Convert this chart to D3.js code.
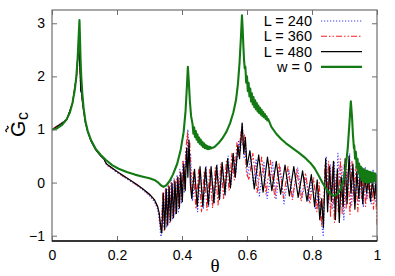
<!DOCTYPE html>
<html><head><meta charset="utf-8">
<script src="https://cdn.jsdelivr.net/npm/d3@7"></script>
<style>body{margin:0;background:#fff}svg{display:block}</style>
</head><body><svg id="c" width="395" height="276"></svg>
<script>
const xTicks = [0, 0.2, 0.4, 0.6, 0.8, 1];
const yTicks = [-1, 0, 1, 2, 3];
const seriesNames = ["L = 240", "L = 360", "L = 480", "w = 0"];

const L240 = [[0,1.00],[0.045,1.19],[0.063,1.50],[0.075,2.00],[0.082,2.65],[0.0855,2.30],[0.087,2.05],[0.0885,1.70],[0.090,1.85],[0.092,1.65],[0.096,1.43],[0.103,1.14],[0.110,0.97],[0.120,0.80],[0.135,0.63],[0.150,0.52],[0.160,0.46],[0.163,0.42],[0.166,0.36],[0.170,0.32],[0.180,0.28],[0.200,0.19],[0.220,0.11],[0.240,0.03],[0.260,-0.05],[0.280,-0.14],[0.300,-0.25],[0.315,-0.36],[0.325,-0.50],[0.330,-0.70],[0.334,-0.98],[0.336,-1.02],
[0.3395,-0.40],[0.3440,-0.85],[0.3485,-0.15],[0.3530,-0.85],[0.3575,-0.02],[0.3620,-0.75],[0.3665,0.05],[0.3710,-0.70],[0.3755,0.08],[0.3800,-0.60],[0.3845,0.15],[0.3890,-0.55],[0.3935,0.25],[0.3980,-0.40],[0.4025,0.40],[0.4070,-0.20],[0.4115,0.60],[0.4150,0.30],[0.4180,1.00],[0.4220,0.35],[0.4265,0.55],[0.4320,-0.35],
[0.4400,0.10],[0.4480,-0.55],[0.4570,0.20],[0.4655,-0.50],[0.4740,0.30],[0.4825,-0.45],[0.4910,0.20],[0.4995,-0.40],[0.5080,0.35],[0.5165,-0.30],[0.5250,0.30],[0.5335,-0.25],[0.5420,0.50],[0.5505,-0.05],[0.5590,0.50],[0.5660,0.20],[0.5740,0.80],[0.5800,0.60],[0.5860,1.10],[0.5910,0.45],[0.5960,0.70],[0.6010,0.10],
[0.6120,0.50],[0.6200,-0.05],[0.6280,0.45],[0.6380,-0.25],[0.6520,0.40],[0.6620,-0.30],[0.6790,0.38],[0.6890,-0.32],[0.7020,0.30],[0.7140,-0.40],[0.7290,0.22],[0.7410,-0.28],[0.7560,0.28],[0.7690,-0.30],[0.7820,0.10],[0.7900,-0.35],[0.8000,0.05],[0.8100,-0.50],[0.8200,-0.15],[0.8280,-0.70],[0.8350,-1.02],[0.8380,-0.30],
[0.8440,0.50],[0.8500,-0.40],[0.8560,0.35],[0.8620,-0.50],[0.8680,0.40],[0.8740,-0.30],[0.8800,0.55],[0.8860,-0.45],[0.8920,0.30],[0.8980,-0.70],[0.9040,0.40],[0.9100,-0.30],[0.9160,0.55],[0.9220,-0.45],[0.9280,0.25],[0.9340,-0.40],[0.9400,0.40],[0.9460,-0.35],[0.9520,0.20],[0.9580,-0.45],[0.9640,0.30],[0.9700,-0.30],[0.9760,0.15],[0.9820,-0.40],[0.9880,0.25],[0.9940,-0.35],[1.0000,-0.10]];

const L360 = [[0,1.00],[0.045,1.19],[0.063,1.50],[0.075,1.99],[0.082,2.62],[0.0855,2.25],[0.087,1.95],[0.0885,1.75],[0.090,1.90],[0.092,1.62],[0.096,1.42],[0.103,1.13],[0.110,0.96],[0.120,0.79],[0.135,0.62],[0.150,0.51],[0.160,0.45],[0.163,0.41],[0.166,0.36],[0.170,0.33],[0.180,0.29],[0.200,0.20],[0.220,0.12],[0.240,0.04],[0.260,-0.04],[0.280,-0.13],[0.300,-0.23],[0.315,-0.33],[0.325,-0.46],[0.330,-0.62],[0.334,-0.85],[0.337,-0.90],
[0.3410,-0.18],[0.3455,-0.90],[0.3500,-0.10],[0.3545,-0.82],[0.3590,-0.05],[0.3635,-0.74],[0.3680,0.00],[0.3725,-0.65],[0.3770,0.05],[0.3815,-0.55],[0.3860,0.12],[0.3905,-0.45],[0.3950,0.22],[0.3995,-0.32],[0.4040,0.40],[0.4085,-0.10],[0.4130,0.70],[0.4170,0.95],[0.4200,0.40],[0.4240,0.75],[0.4290,-0.25],
[0.4350,0.20],[0.4430,-0.50],[0.4515,0.25],[0.4600,-0.55],[0.4685,0.22],[0.4770,-0.52],[0.4855,0.25],[0.4940,-0.48],[0.5025,0.28],[0.5110,-0.42],[0.5195,0.35],[0.5280,-0.30],[0.5365,0.40],[0.5450,-0.15],[0.5535,0.55],[0.5610,0.05],[0.5690,0.75],[0.5750,0.50],[0.5810,0.95],[0.5870,0.70],[0.5920,0.90],[0.5980,0.20],
[0.6060,0.05],[0.6180,0.55],[0.6315,-0.20],[0.6450,0.48],[0.6585,-0.22],[0.6720,0.42],[0.6855,-0.28],[0.6990,0.36],[0.7125,-0.30],[0.7260,0.30],[0.7395,-0.32],[0.7530,0.25],[0.7665,-0.35],[0.7800,0.18],[0.7935,-0.40],[0.8050,0.10],[0.8150,-0.55],[0.8220,0.00],[0.8300,-0.80],[0.8360,-0.40],
[0.8400,0.35],[0.8460,-0.20],[0.8510,0.40],[0.8570,-0.65],[0.8630,0.30],[0.8690,-0.75],[0.8750,0.15],[0.8810,-0.55],[0.8870,0.45],[0.8930,-0.60],[0.8990,0.35],[0.9050,-0.50],[0.9110,0.25],[0.9170,-0.60],[0.9230,0.40],[0.9290,-0.35],[0.9350,0.30],[0.9410,-0.55],[0.9470,0.15],[0.9530,-0.30],[0.9590,0.25],[0.9650,-0.45],[0.9710,0.10],[0.9770,-0.30],[0.9830,0.05],[0.9890,-0.50],[0.9950,-0.05],[1.0000,-0.80]];

const L480 = [[0,0.99],[0.045,1.18],[0.063,1.49],[0.075,1.98],[0.082,2.60],[0.0855,2.20],[0.087,2.00],[0.0885,1.72],[0.090,1.95],[0.092,1.60],[0.096,1.40],[0.103,1.12],[0.110,0.95],[0.120,0.78],[0.135,0.61],[0.150,0.50],[0.160,0.44],[0.163,0.40],[0.166,0.37],[0.170,0.34],[0.180,0.30],[0.200,0.21],[0.220,0.13],[0.240,0.05],[0.260,-0.03],[0.280,-0.12],[0.300,-0.22],[0.315,-0.32],[0.325,-0.45],[0.330,-0.58],[0.334,-0.80],[0.336,-0.92],
[0.3380,-0.95],[0.3425,-0.20],[0.3470,-0.88],[0.3515,-0.12],[0.3560,-0.80],[0.3605,-0.08],[0.3650,-0.72],[0.3695,-0.02],[0.3740,-0.66],[0.3785,0.02],[0.3830,-0.58],[0.3875,0.10],[0.3920,-0.48],[0.3965,0.18],[0.4010,-0.36],[0.4055,0.35],[0.4100,-0.15],[0.4145,0.65],[0.4180,0.10],[0.4215,0.80],[0.4260,-0.05],
[0.4300,-0.30],[0.4385,0.25],[0.4470,-0.45],[0.4555,0.30],[0.4640,-0.45],[0.4725,0.28],[0.4810,-0.42],[0.4895,0.30],[0.4980,-0.38],[0.5065,0.32],[0.5150,-0.32],[0.5235,0.38],[0.5320,-0.22],[0.5405,0.45],[0.5490,-0.10],[0.5575,0.55],[0.5640,0.10],[0.5720,0.70],[0.5770,0.45],[0.5850,1.12],[0.5900,0.55],[0.5950,0.85],[0.6000,0.30],
[0.6090,0.60],[0.6225,-0.12],[0.6360,0.52],[0.6495,-0.18],[0.6630,0.48],[0.6765,-0.15],[0.6900,0.40],[0.7035,-0.22],[0.7170,0.33],[0.7305,-0.25],[0.7440,0.30],[0.7575,-0.28],[0.7710,0.22],[0.7845,-0.35],[0.7980,0.15],[0.8080,-0.45],[0.8160,0.05],[0.8240,-0.70],[0.8300,-0.30],[0.8350,-0.85],
[0.8420,0.45],[0.8480,-0.55],[0.8540,0.30],[0.8600,-0.35],[0.8660,0.40],[0.8720,-0.70],[0.8780,0.25],[0.8840,-0.75],[0.8900,0.10],[0.8960,-0.45],[0.9020,0.45],[0.9080,-0.40],[0.9140,0.50],[0.9200,-0.20],[0.9260,0.35],[0.9320,-0.50],[0.9380,0.20],[0.9440,-0.30],[0.9500,0.30],[0.9560,-0.40],[0.9620,0.15],[0.9680,-0.20],[0.9740,0.10],[0.9800,-0.35],[0.9860,0.05],[0.9920,-0.30],[0.9970,0.05],[1.0000,-0.45]];

const W0 = [[0,1.00],[0.015,1.02],[0.030,1.08],[0.045,1.19],[0.055,1.32],[0.063,1.50],[0.070,1.74],[0.075,2.00],[0.079,2.35],[0.082,2.75],[0.0845,3.06],[0.086,2.75],[0.088,2.30],[0.090,2.00],[0.093,1.70],[0.097,1.42],[0.103,1.15],[0.110,0.97],[0.120,0.80],[0.135,0.63],[0.150,0.52],[0.165,0.43],[0.185,0.33],[0.205,0.26],[0.230,0.20],[0.255,0.15],[0.280,0.11],[0.300,0.08],[0.315,0.05],[0.325,0.01],[0.335,-0.05],[0.343,-0.08],[0.352,-0.05],[0.362,0.03],[0.372,0.15],[0.385,0.35],[0.396,0.62],[0.405,0.95],[0.411,1.35],[0.415,1.80],[0.418,2.18],[0.421,1.90],[0.424,1.55],[0.428,1.25],
[0.4325,1.10],[0.4350,0.92],[0.4375,1.04],[0.4400,0.86],[0.4425,0.97],[0.4450,0.81],[0.4475,0.91],[0.4500,0.76],[0.4525,0.85],[0.4550,0.73],[0.4575,0.81],[0.4600,0.70],[0.4625,0.77],[0.4650,0.67],[0.4675,0.74],[0.4700,0.65],[0.4725,0.71],[0.4750,0.64],[0.4775,0.69],[0.4800,0.63],[0.4825,0.68],[0.4850,0.635],[0.4875,0.67],[0.4900,0.645],
[0.500,0.67],[0.512,0.74],[0.525,0.84],[0.537,0.96],[0.548,1.12],[0.558,1.32],[0.566,1.55],[0.572,1.85],[0.577,2.25],[0.581,2.70],[0.5845,3.15],[0.587,2.85],[0.589,2.55],[0.591,2.30],[0.593,2.15],
[0.5950,2.18],[0.5975,1.88],[0.6000,2.00],[0.6025,1.72],[0.6050,1.88],[0.6075,1.62],[0.6100,1.77],[0.6125,1.53],[0.6150,1.68],[0.6175,1.47],[0.6200,1.61],[0.6225,1.42],[0.6250,1.55],[0.6275,1.38],[0.6300,1.50],[0.6325,1.34],[0.6350,1.45],[0.6375,1.31],[0.6400,1.41],[0.6425,1.28],[0.6450,1.37],[0.6475,1.25],[0.6500,1.33],[0.6525,1.23],[0.6550,1.29],[0.6575,1.20],[0.6600,1.25],[0.6625,1.17],[0.6650,1.20],
[0.675,1.05],[0.690,0.92],[0.705,0.82],[0.720,0.74],[0.740,0.65],[0.760,0.56],[0.780,0.46],[0.795,0.37],[0.808,0.27],[0.820,0.14],[0.832,0.00],[0.845,-0.13],[0.857,-0.22],[0.868,-0.25],[0.878,-0.22],[0.888,-0.13],[0.897,0.05],[0.904,0.30],[0.910,0.65],[0.915,1.10],[0.9195,1.53],[0.923,1.25],[0.926,0.90],[0.929,0.65],
[0.9300,0.70],[0.9325,0.45],[0.9350,0.58],[0.9375,0.28],[0.9400,0.45],[0.9425,0.18],[0.9450,0.36],[0.9475,0.10],[0.9500,0.30],[0.9525,0.05],[0.9550,0.27],[0.9575,0.02],[0.9600,0.25],[0.9625,0.01],[0.9650,0.23],[0.9675,0.00],[0.9700,0.22],[0.9725,0.00],[0.9750,0.21],[0.9775,0.01],[0.9800,0.20],[0.9825,0.01],[0.9850,0.19],[0.9875,0.02],[0.9900,0.18],[0.9925,0.03],[0.9950,0.17],[0.9975,0.04],[1.0000,0.15]];

(function(){
const svg = d3.select("#c");
const M = {l:52, r:377, t:10, b:241};
const x = d3.scaleLinear().domain([0,1]).range([M.l, M.r]);
const y = d3.scaleLinear().domain([-1.1, 3.25]).range([M.b, M.t]);
const font = "'Liberation Sans', Arial, sans-serif";

svg.append("clipPath").attr("id","clip").append("rect")
  .attr("x",M.l).attr("y",M.t).attr("width",M.r-M.l).attr("height",M.b-M.t);

const styles = [
  {data:L240, color:"#3a3aff", w:1.1, dash:"1.2,1.8"},
  {data:L360, color:"#ff2020", w:1.1, dash:"6,2,1.5,2,1.5,2"},
  {data:L480, color:"#000000", w:1.2, dash:null},
  {data:W0,   color:"#137a13", w:2.1, dash:null}
];
const line = d3.line().x(d=>x(d[0])).y(d=>y(d[1]));
const g = svg.append("g").attr("clip-path","url(#clip)");
styles.forEach(s=>{
  g.append("path").datum(s.data).attr("d",line).attr("fill","none")
   .attr("stroke",s.color).attr("stroke-width",s.w)
   .attr("stroke-dasharray",s.dash).attr("stroke-linejoin","round");
});

const frameColor = "#6e6e6e";
const ax = svg.append("g");
const axB = d3.axisBottom(x).tickValues(xTicks).tickSize(-5).tickPadding(9).tickFormat(d3.format("~g"));
const axL = d3.axisLeft(y).tickValues(yTicks).tickSize(-5).tickPadding(7).tickFormat(d3.format("~g"));
const axT = d3.axisTop(x).tickValues(xTicks).tickSize(-5).tickFormat("");
const axR = d3.axisRight(y).tickValues(yTicks).tickSize(-5).tickFormat("");
[[axB,`translate(0,${M.b})`],[axL,`translate(${M.l},0)`],[axT,`translate(0,${M.t})`],[axR,`translate(${M.r},0)`]].forEach(([a,t])=>{
  const gg = ax.append("g").attr("transform",t).call(a);
  gg.select(".domain").remove();
  gg.selectAll(".tick line").attr("stroke",frameColor).attr("stroke-width",1);
  gg.selectAll("text").attr("font-family",font).attr("font-size",14).attr("fill","#000");
});
ax.append("rect").attr("x",M.l).attr("y",M.t).attr("width",M.r-M.l).attr("height",M.b-M.t)
  .attr("fill","none").attr("stroke",frameColor).attr("stroke-width",1.2);
ax.append("line").attr("x1",M.l).attr("x2",M.r).attr("y1",M.b).attr("y2",M.b)
  .attr("stroke","#111").attr("stroke-width",1.5);

const leg = svg.append("g");
styles.forEach((s,i)=>{
  const yy = 21 + i*15.3;
  leg.append("text").attr("x",312).attr("y",yy+5).attr("text-anchor","end")
    .attr("font-family",font).attr("font-size",14.5).text(seriesNames[i]);
  leg.append("line").attr("x1",321).attr("x2",362).attr("y1",yy).attr("y2",yy)
    .attr("stroke",s.color).attr("stroke-width",s.w).attr("stroke-dasharray",s.dash);
});

svg.append("text").attr("x",215).attr("y",272).attr("text-anchor","middle")
  .attr("font-family","'Liberation Serif', serif").attr("font-size",19).text("θ");

const yl = svg.append("g").attr("transform","translate(25,0) rotate(-90)");
yl.append("text").attr("x",-137).attr("y",0).attr("font-family",font).attr("font-size",21).text("G");
yl.append("text").attr("x",-120).attr("y",3).attr("font-family",font).attr("font-size",16).text("c");
yl.append("path").attr("d","M-132,-18 q1.5,-2.4 3,0 t3,0").attr("fill","none")
  .attr("stroke","#000").attr("stroke-width",1.3);
})();
</script></body></html>
